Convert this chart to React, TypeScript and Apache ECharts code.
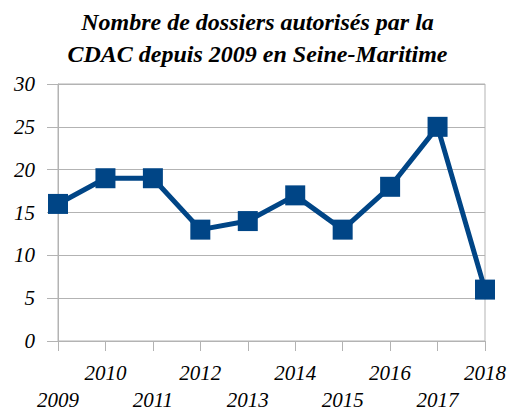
import React, { useEffect, useRef } from "react";
import * as echarts from "echarts";

const titleLines = ["Nombre de dossiers autorisés par la", "CDAC depuis 2009 en Seine-Maritime"];
const years = ["2009", "2010", "2011", "2012", "2013", "2014", "2015", "2016", "2017", "2018"];
const dossiers = [16, 19, 19, 13, 14, 17, 13, 18, 25, 6];
const yMin = 0;
const yMax = 30;
const yStep = 5;

const FONT = "Liberation Serif, Times New Roman, serif";
const GRID = "#b3b3b3";

export default function App() {
  const ref = useRef<HTMLDivElement>(null);
  useEffect(() => {
    if (!ref.current) return;
    const chart = echarts.init(ref.current, null, { renderer: "svg" });
    chart.setOption({
      animation: false,
      title: {
        text: titleLines.join("\n"),
        left: "center",
        top: 1,
        textStyle: {
          fontFamily: FONT,
          fontStyle: "italic",
          fontWeight: "bold",
          fontSize: 24,
          lineHeight: 32,
          color: "#000",
        },
      },
      grid: {
        left: 58,
        right: 30,
        top: 84,
        bottom: 71,
        show: true,
        borderColor: GRID,
        borderWidth: 1,
        containLabel: false,
        outerBoundsMode: "none",
      },
      xAxis: {
        type: "category",
        data: years,
        boundaryGap: false,
        axisLine: { show: true, lineStyle: { color: GRID, width: 1 } },
        axisTick: { show: true, length: 10, lineStyle: { color: GRID } },
        splitLine: { show: false },
        axisLabel: {
          interval: 0,
          margin: 18,
          fontFamily: FONT,
          fontStyle: "italic",
          fontSize: 21,
          color: "#000",
          lineHeight: 27,
          formatter: (v: string, i: number) => (i % 2 === 0 ? "\n" + v : v),
        },
      },
      yAxis: {
        type: "value",
        min: yMin,
        max: yMax,
        interval: yStep,
        axisLine: { show: true, lineStyle: { color: GRID, width: 1 } },
        axisTick: { show: true, length: 11, lineStyle: { color: GRID } },
        splitLine: { show: true, lineStyle: { color: GRID, width: 1 } },
        axisLabel: {
          margin: 23,
          fontFamily: FONT,
          fontStyle: "italic",
          fontSize: 21,
          color: "#000",
        },
      },
      series: [
        {
          type: "line",
          data: dossiers,
          symbol: "rect",
          symbolSize: 20,
          lineStyle: { color: "#004586", width: 5 },
          itemStyle: { color: "#004586" },
        },
      ],
    });
    return () => chart.dispose();
  }, []);
  return <div ref={ref} style={{ width: 515, height: 412, position: "absolute", left: 0, top: 0 }} />;
}
